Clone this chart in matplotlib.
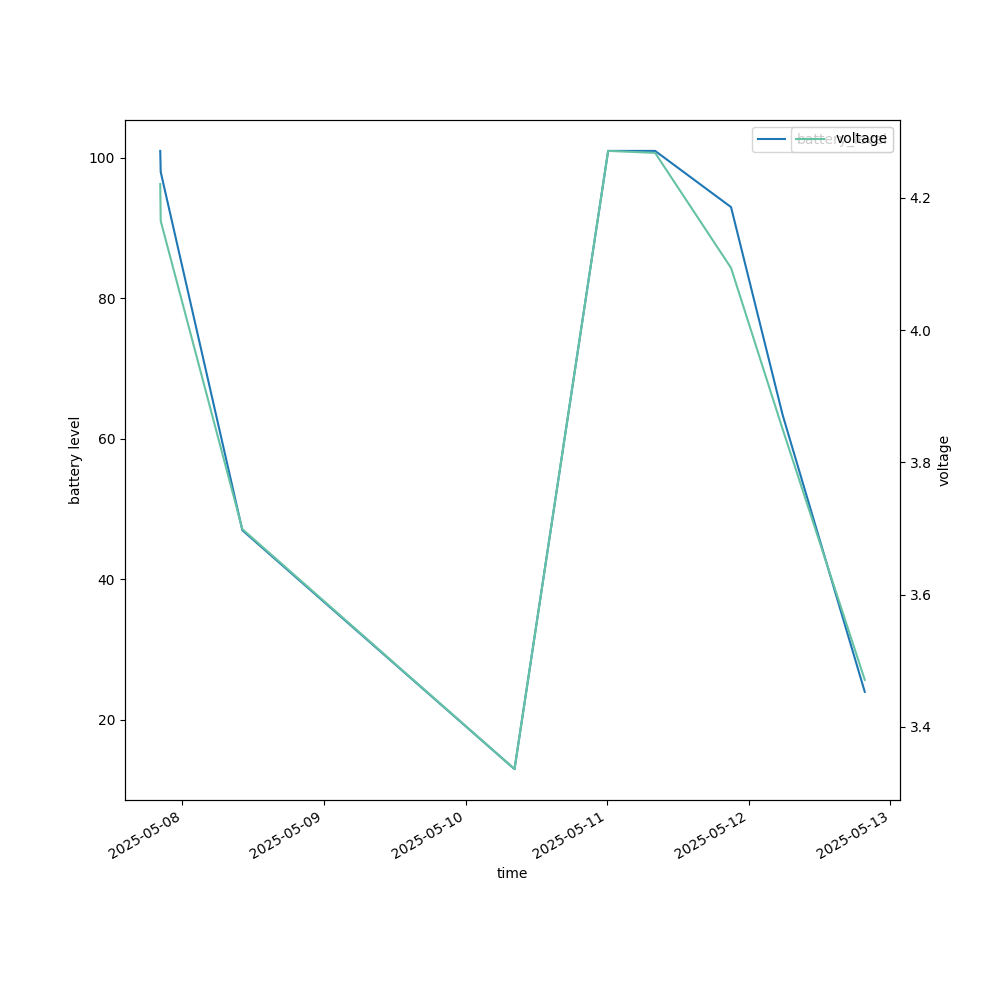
import matplotlib
matplotlib.use("Agg")
import matplotlib.pyplot as plt
import pandas as pd

times = pd.to_datetime([
    "2025-05-07 20:15", "2025-05-07 20:20", "2025-05-08 10:10",
    "2025-05-10 08:18", "2025-05-11 00:10", "2025-05-11 08:08",
    "2025-05-11 21:00", "2025-05-12 05:45", "2025-05-12 19:40",
])
battery_level = [101, 98, 47, 13, 101, 101, 93, 63.4, 24]
voltage = [4.221, 4.165, 3.699, 3.336, 4.271, 4.268, 4.094, 3.85, 3.471]

df = pd.DataFrame({"battery_level": battery_level, "voltage": voltage}, index=times)

fig, ax = plt.subplots(figsize=(10, 10))
ax.plot(df.index, df["battery_level"], color="tab:blue", label="battery_level")
ax.set_xlabel("time")
ax.set_ylabel("battery level")
ax.legend(loc="upper right")

ax2 = ax.twinx()
ax2.plot(df.index, df["voltage"], color="#66c2a5", label="voltage")
ax2.set_ylabel("voltage")
ax2.legend(loc="upper right")

fig.autofmt_xdate()
fig.savefig("out.png", dpi=100)
